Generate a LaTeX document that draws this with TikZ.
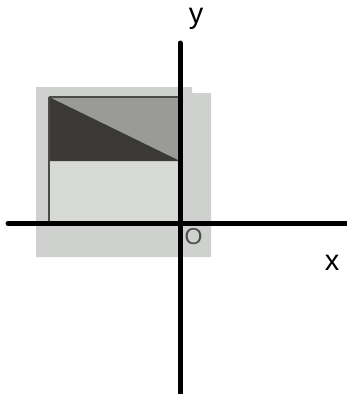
\documentclass[tikz,border=0pt]{standalone}
\usepackage{fontspec}
\setmainfont{Liberation Sans}
\definecolor{patch}{HTML}{CFD1CE}
\definecolor{lowbox}{HTML}{D7D9D5}
\definecolor{midgray}{HTML}{9A9B98}
\definecolor{darkgray}{HTML}{3A3938}
\definecolor{edgegray}{HTML}{4A4A48}
\definecolor{origray}{HTML}{4C4C4A}
\tikzset{
  axis/.style={line width=5pt, line cap=round, black},
  axlabel/.style={font=\fontsize{29}{29}\selectfont, inner sep=0pt, anchor=base},
  orilabel/.style={font=\fontsize{23}{23}\selectfont, inner sep=0pt, text=origray}
}
\begin{document}
\begin{tikzpicture}[x=1pt,y=-1pt]
\useasboundingbox (0,0) rectangle (347,394);
% photo patch
\fill[patch] (36,87) -- (192,87) -- (192,93) -- (211,93) -- (211,257) -- (36,257) -- cycle;
% lower light box
\fill[lowbox] (49,161) rectangle (180,224);
% medium gray triangle
\fill[midgray] (49,97) -- (180,97) -- (180,161) -- cycle;
% dark triangle
\fill[darkgray] (49,97) -- (49,161) -- (180,161) -- cycle;
% borders
\draw[edgegray, line width=1.6pt] (49,97) -- (180,97);
\draw[edgegray, line width=1.6pt] (49,97) -- (49,224);
% axes
\coordinate (xl) at (8,223.5);
\coordinate (xr) at (349,223.5);
\coordinate (yt) at (180,43);
\coordinate (yb) at (180,396);
\draw[axis] (xl) -- (xr);
\draw[axis] (yt) -- (yb);
% labels
\node[axlabel] (ylab) at (196,23.5) {y};
\node[axlabel] (xlab) at (332,270) {x};
\node[orilabel] (olab) at (193.5,237) {O};
\end{tikzpicture}
\end{document}
